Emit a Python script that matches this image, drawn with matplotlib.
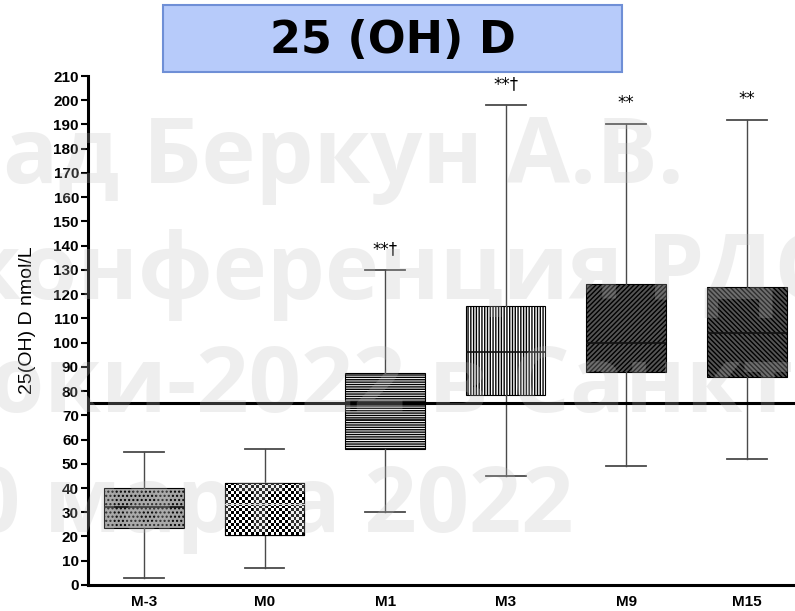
import numpy as np
import matplotlib
matplotlib.use("Agg")
import matplotlib.pyplot as plt
from matplotlib.patches import Rectangle

# data
groups = ["M-3", "M0", "M1", "M3", "M9", "M15"]
whis_lo = [3, 7, 30, 45, 49, 52]
q1 = [23.5, 20.5, 56, 78.5, 88, 86]
medians = [32, 33.5, 68, 96, 100, 104]
q3 = [40, 42, 87.5, 115, 124, 123]
whis_hi = [55, 56, 130, 198, 190, 192]
marks = ["", "", "**\u2020", "**\u2020", "**", "**"]
ref_level = 75

watermark = ["ад Беркун А.В.", "конференция РДО", "юки-2022 в Санкт-", "0 марта 2022"]

plt.rcParams["font.family"] = ["Liberation Sans Narrow", "Liberation Sans", "DejaVu Sans"]
plt.rcParams["hatch.linewidth"] = 1.0

fig = plt.figure(figsize=(7.95, 6.11), dpi=100)
ax = fig.add_axes([0.1107, 0.0426, 0.8893, 0.833])
ax.set_facecolor("none")

stats = []
for i, g in enumerate(groups):
    stats.append(dict(label=g, whislo=whis_lo[i], q1=q1[i], med=medians[i],
                      q3=q3[i], whishi=whis_hi[i], fliers=[]))

pos = np.arange(len(groups))
bp = ax.bxp(stats, positions=pos, widths=0.66, capwidths=0.33,
            patch_artist=True, showfliers=False,
            boxprops=dict(edgecolor="black", linewidth=0.8),
            whiskerprops=dict(color="#4a4a4a", linewidth=1.0),
            capprops=dict(color="#4a4a4a", linewidth=1.3),
            medianprops=dict(color="#111111", linewidth=1.2))

faces = ["#a4a4a4", "white", "white", "white", "#555555", "#555555"]
hatches = ["....", None, "-------", "||||||", "///////", "\\\\\\\\\\\\\\"]
for box, fc, h in zip(bp["boxes"], faces, hatches):
    box.set_facecolor(fc)
    if h:
        box.set_hatch(h)

# checkerboard fill for M0
b = bp["boxes"][1]
checker = np.indices((18, 28)).sum(axis=0) % 2
im = ax.imshow(checker, cmap="gray", interpolation="nearest", aspect="auto",
               extent=(pos[1] - 0.33, pos[1] + 0.33, q1[1], q3[1]), zorder=2.1)
im.set_clip_path(b)
ax.add_patch(Rectangle((pos[1] - 0.33, q1[1]), 0.66, q3[1] - q1[1],
                       fill=False, edgecolor="black", linewidth=0.8, zorder=2.2))
ax.plot([pos[1] - 0.33, pos[1] + 0.33], [medians[1]] * 2, color="#cccccc",
        linewidth=0.8, zorder=2.3)

for i, m in enumerate(marks):
    if m:
        ax.text(pos[i], whis_hi[i] + 5, m, ha="center", va="bottom",
                fontsize=12, family=["DejaVu Sans"])

ax.axhline(ref_level, color="black", linewidth=2.2, zorder=3)

ax.set_xlim(-0.465, 5.40)
ax.set_ylim(0, 210)
ax.set_yticks(np.arange(0, 211, 10))
ax.set_xticks(pos)
ax.set_xticklabels(groups, fontweight="bold", fontsize=11)
for lbl in ax.get_yticklabels():
    lbl.set_fontweight("bold")
    lbl.set_fontsize(11)
ax.tick_params(axis="y", direction="out", length=5, width=1.5, pad=1.5)
ax.tick_params(axis="x", length=0, pad=7)
for s in ["top", "right"]:
    ax.spines[s].set_visible(False)
ax.spines["left"].set_linewidth(2.2)
ax.spines["bottom"].set_linewidth(2.2)

fig.text(0.035, 0.476, "25(OH) D nmol/L", rotation=90, ha="center", va="center",
         fontsize=14)

# title box
fig.patches.append(Rectangle((0.205, 0.882), 0.577, 0.110, transform=fig.transFigure,
                             facecolor="#b7cbfa", edgecolor="#6f8fd6", linewidth=1.5))
fig.text(0.4937, 0.9345, "25 (OH) D", ha="center", va="center", fontsize=32,
         fontweight="bold", family=["DejaVu Sans"])

# faint watermark lines
wm_x = [0.004, -0.045, -0.045, -0.04]
wm_y = [0.70, 0.51, 0.325, 0.13]
for t, x, y in zip(watermark, wm_x, wm_y):
    fig.text(x, y, t, ha="left", va="baseline", fontsize=66, fontweight="bold",
             family=["Open Sans", "DejaVu Sans"], color="#bdbdbd", alpha=0.25,
             zorder=10)

fig.savefig("out.png", dpi=100)
